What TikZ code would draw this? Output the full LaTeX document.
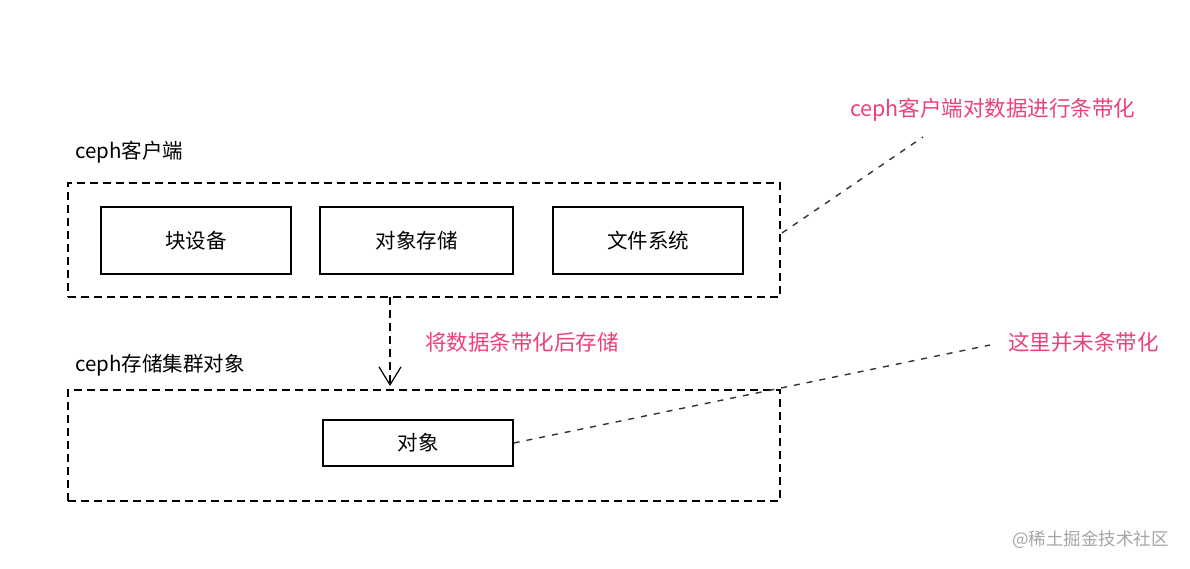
\documentclass[tikz,border=0pt]{standalone}
\usepackage{fontspec}
\setmainfont{Noto Sans CJK SC}
\usetikzlibrary{arrows.meta}

\begin{document}
\begin{tikzpicture}[x=1pt,y=-1pt]
        \definecolor{notepink}{RGB}{236,64,122}
        \definecolor{markgray}{RGB}{165,165,165}
        \tikzset{
            group/.style={draw, dash pattern=on 8pt off 5pt, line width=1.2pt, minimum width=712pt, minimum height=114pt, inner sep=0pt},
            block/.style={draw, line width=1.4pt, minimum width=190pt, minimum height=67pt, inner sep=0pt, font=\fontsize{20.5}{24}\selectfont},
            title/.style={anchor=west, inner sep=0pt, font=\fontsize{20.5}{24}\selectfont},
            note/.style={anchor=west, inner sep=0pt, text=notepink, font=\fontsize{21.5}{25}\selectfont},
            pointer/.style={dash pattern=on 6pt off 7pt, line width=1.4pt, draw=black!80}
        }
        \useasboundingbox (0,0) rectangle (1190,568);

        % Coordinates
        \coordinate (A) at (390, 297);
        \coordinate (B) at (390, 386);
        \coordinate (C) at (782, 233);
        \coordinate (D) at (923, 137);
        \coordinate (E) at (990, 345);

        % Drawing
        \node[group] (client) at (424, 240) {};
        \node[group, minimum height=111pt] (cluster) at (424, 445.5) {};
        \node[title] (clientlabel) at (75, 152) {ceph客户端};
        \node[title] (clusterlabel) at (75, 365) {ceph存储集群对象};
        \node[block] (blockdev) at (196, 240.5) {块设备};
        \node[block, minimum width=193pt] (objstore) at (416.5, 240.5) {对象存储};
        \node[block] (filesys) at (648, 240.5) {文件系统};
        \node[block, minimum height=46pt] (object) at (418, 443) {对象};
        \draw[dash pattern=on 8pt off 5pt, line width=1.1pt, -{Straight Barb[length=18pt, width=22pt, line width=1.2pt]}] (A) -- (B);
        \node[note] (stripenote) at (425, 342) {将数据条带化后存储};
        \node[note] (clientnote) at (850, 110) {ceph客户端对数据进行条带化};
        \node[note] (plainnote) at (1008, 342) {这里并未条带化};
        \draw[pointer] (C) -- (D);
        \draw[pointer] (object.east) -- (E);
        \node[anchor=west, inner sep=0pt, text=markgray, font=\fontsize{17.5}{21}\selectfont] (mark) at (1012, 540) {@稀土掘金技术社区};
    \end{tikzpicture}
\end{document}
